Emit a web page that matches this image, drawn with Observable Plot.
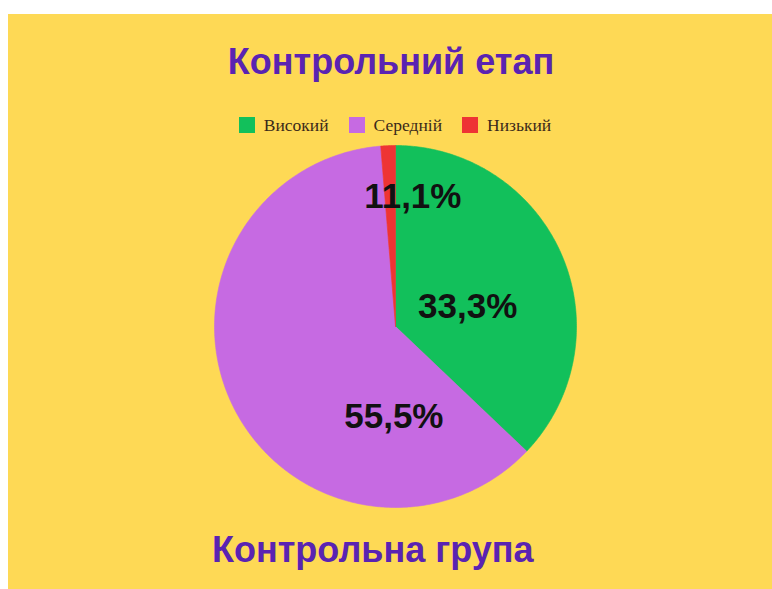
<!DOCTYPE html>
<html>
<head>
<meta charset="utf-8">
<script src="https://cdn.jsdelivr.net/npm/d3@7"></script>
<script src="https://cdn.jsdelivr.net/npm/@observablehq/plot@0.6"></script>
<style>
  html, body { margin: 0; padding: 0; background: #ffffff; width: 772px; height: 589px; overflow: hidden; }
  #card { position: absolute; left: 8px; top: 14px; width: 764px; height: 575px; background: #fed955; }
  .title { font-family: "Liberation Sans", Arial, sans-serif; font-weight: bold; color: #5a23b2; font-size: 36px; line-height: 40px; }
  #title { text-align: center; padding-top: 28px; padding-left: 2px; height: 40px; }
  #legend { margin-top: 33px; height: 20px; display: flex; justify-content: center; align-items: center; gap: 20px; padding-left: 10px;
            font-family: "Liberation Serif", "DejaVu Serif", serif; font-size: 17.5px; color: #3b2a1a; }
  .item { display: flex; align-items: center; gap: 9px; }
  .sw { width: 16px; height: 16px; display: inline-block; }
  #chart { margin-top: 5px; height: 372px; }
  #chart svg { display: block; }
  #caption { margin-top: 18px; padding-left: 204px; text-align: left; }
</style>
</head>
<body>
<div id="card">
  <div id="title" class="title"></div>
  <div id="legend"></div>
  <div id="chart"></div>
  <div id="caption" class="title"></div>
</div>
<script>
const titleText = "Контрольний етап";
const captionText = "Контрольна група";
const categories = ["Високий", "Середній", "Низький"];
const shares = [37.1, 61.6, 1.3];
const labels = ["33,3%", "55,5%", "11,1%"];
const colors = ["#12c05b", "#c66ae2", "#ee3434"];

document.getElementById("title").textContent = titleText;
document.getElementById("caption").textContent = captionText;

const legend = document.getElementById("legend");
categories.forEach((c, i) => {
  const it = document.createElement("span");
  it.className = "item";
  const sw = document.createElement("span");
  sw.className = "sw";
  sw.style.background = colors[i];
  const tx = document.createElement("span");
  tx.textContent = c;
  it.appendChild(sw); it.appendChild(tx);
  legend.appendChild(it);
});

const rows = categories.map((c, i) => ({cat: c, value: shares[i], label: labels[i]}));
const arcs = d3.pie().sort(null).value(d => d.value)(rows);

// polygon outline of each slice derived from the pie angles
const pts = [];
arcs.forEach(a => {
  const cat = a.data.cat;
  pts.push({cat, x: 0, y: 0});
  const n = Math.max(2, Math.ceil((a.endAngle - a.startAngle) / 0.01));
  for (let k = 0; k <= n; k++) {
    const t = a.startAngle + (a.endAngle - a.startAngle) * k / n;
    pts.push({cat, x: Math.sin(t), y: Math.cos(t)});
  }
  pts.push({cat, x: 0, y: 0});
});

const cent = arcs.map(a => {
  const m = (a.startAngle + a.endAngle) / 2;
  return {cat: a.data.cat, label: a.data.label, x: 0.5 * Math.sin(m), y: 0.5 * Math.cos(m)};
});

const offsets = [[-11, 16], [80, 51], [21, -39]];
const textMarks = cent.map((c, i) => Plot.text([c], {
  x: "x", y: "y", text: "label",
  dx: offsets[i][0], dy: offsets[i][1],
  fill: "#111111", fontSize: 35, fontWeight: "bold",
  fontFamily: "Liberation Sans, Arial, sans-serif"
}));

const plot = Plot.plot({
  width: 764,
  height: 372,
  marginLeft: 206,
  marginRight: 196,
  marginTop: 5,
  marginBottom: 5,
  x: {domain: [-1, 1], axis: null},
  y: {domain: [-1, 1], axis: null},
  color: {domain: categories, range: colors},
  style: {background: "transparent", overflow: "visible"},
  marks: [
    Plot.line(pts, {x: "x", y: "y", z: "cat", fill: "cat", stroke: "cat", strokeWidth: 0.6, curve: "linear"}),
    ...textMarks
  ]
});
document.getElementById("chart").appendChild(plot);
</script>
</body>
</html>
